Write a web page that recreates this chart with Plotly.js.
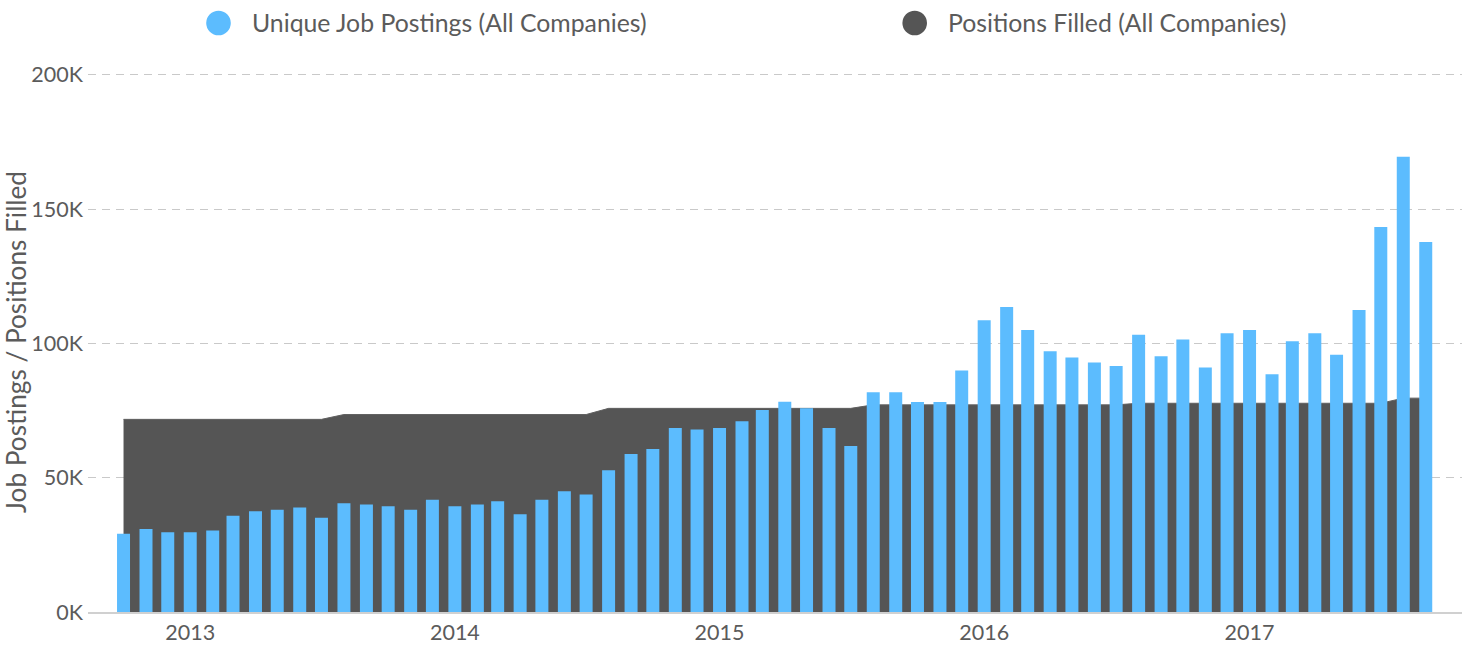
<!DOCTYPE html>
<html>
<head>
<meta charset="utf-8">
<script src="https://cdn.plot.ly/plotly-3.0.1.min.js"></script>
<style>
  html, body { margin: 0; padding: 0; background: #ffffff; }
  #chart { width: 1473px; height: 659px; }
</style>
</head>
<body>
<div id="chart"></div>
<script>
// ---- data ----
const months = [
  '2012-10','2012-11','2012-12',
  '2013-01','2013-02','2013-03','2013-04','2013-05','2013-06','2013-07','2013-08','2013-09','2013-10','2013-11','2013-12',
  '2014-01','2014-02','2014-03','2014-04','2014-05','2014-06','2014-07','2014-08','2014-09','2014-10','2014-11','2014-12',
  '2015-01','2015-02','2015-03','2015-04','2015-05','2015-06','2015-07','2015-08','2015-09','2015-10','2015-11','2015-12',
  '2016-01','2016-02','2016-03','2016-04','2016-05','2016-06','2016-07','2016-08','2016-09','2016-10','2016-11','2016-12',
  '2017-01','2017-02','2017-03','2017-04','2017-05','2017-06','2017-07','2017-08','2017-09'
];

const uniquePostings = [
  29100, 30900, 29700,
  29700, 30300, 35800, 37500, 38100, 38900, 35100, 40500, 40000, 39400, 38100, 41800,
  39400, 40000, 41200, 36400, 41800, 44900, 43700, 52800, 58800, 60700, 68500, 67900,
  68500, 71000, 75200, 78300, 75800, 68500, 61800, 81800, 81800, 78200, 78200, 89900,
  108600, 113500, 105000, 97100, 94700, 92900, 91600, 103200, 95200, 101400, 91000, 103800,
  105000, 88500, 100800, 103800, 95800, 112400, 143300, 169500, 137700
];

const positionsFilled = [
  71700, 71700, 71700,
  71700, 71700, 71700, 71700, 71700, 71700, 71700, 73500, 73500, 73500, 73500, 73500,
  73500, 73500, 73500, 73500, 73500, 73500, 73500, 75800, 75800, 75800, 75800, 75800,
  75800, 75800, 75800, 75800, 75800, 75800, 75800, 77100, 77100, 77100, 77100, 77100,
  77100, 77100, 77100, 77100, 77100, 77100, 77100, 77700, 77700, 77700, 77700, 77700,
  77700, 77700, 77700, 77700, 77700, 77700, 77700, 79600, 79600
];

const yTickVals = [0, 50000, 100000, 150000, 200000];
const yTickText = ['0K', '50K', '100K', '150K', '200K'];

const seriesNames = ['Unique Job Postings (All Companies)', 'Positions Filled (All Companies)'];

// ---- styles ----
const BLUE = '#5cbcfe';
const DARK = '#555555';
const TEXT = '#5b5b5b';
const FONT = 'Lato, "Open Sans", sans-serif';

const traces = [
  {
    type: 'scatter',
    mode: 'lines',
    name: seriesNames[1],
    x: months,
    y: positionsFilled,
    fill: 'tozeroy',
    fillcolor: DARK,
    line: { color: '#606060', width: 1 },
    xaxis: 'x',
    yaxis: 'y',
    hoverinfo: 'x+y+name',
    showlegend: false
  },
  {
    type: 'bar',
    name: seriesNames[0],
    x: months,
    y: uniquePostings,
    marker: { color: BLUE, line: { width: 0 } },
    xaxis: 'x',
    yaxis: 'y2',
    hoverinfo: 'x+y+name',
    showlegend: false
  }
];

// plot area in pixels
const L = 88, R = 11, T = 72, B = 47;
const W = 1473, H = 659;
const pw = W - L - R, ph = H - T - B;
const px = v => (v - L) / pw;
const py = v => (H - B - v) / ph;
const Y_MAX = 201000;

const layout = {
  width: W,
  height: H,
  margin: { l: L, r: R, t: T, b: B, pad: 0 },
  paper_bgcolor: '#ffffff',
  plot_bgcolor: '#ffffff',
  font: { family: FONT, color: TEXT, size: 21 },
  bargap: 0.36,
  showlegend: false,
  xaxis: {
    type: 'date',
    range: ['2012-08-13', '2017-10-21'],
    tick0: '2013-01-01',
    dtick: 'M12',
    tickformat: '%Y',
    showgrid: false,
    zeroline: false,
    showline: true,
    linecolor: '#d0d0d0',
    linewidth: 2,
    ticks: '',
    tickfont: { family: FONT, size: 21.5, color: TEXT },
    fixedrange: true
  },
  yaxis: {
    range: [0, Y_MAX],
    tickvals: yTickVals,
    ticktext: yTickText,
    showgrid: true,
    gridcolor: '#c9c9c9',
    gridwidth: 1,
    griddash: '8px,6px',
    zeroline: false,
    showline: false,
    ticks: '',
    ticklabelstandoff: 4,
    tickfont: { family: FONT, size: 21.5, color: TEXT },
    title: { text: 'Job Postings / Positions Filled', font: { family: FONT, size: 26.2, color: TEXT }, standoff: 0 },
    automargin: false,
    fixedrange: true
  },
  yaxis2: {
    overlaying: 'y',
    range: [0, Y_MAX],
    visible: false,
    showgrid: false,
    zeroline: false,
    fixedrange: true
  },
  shapes: [
    {
      type: 'circle', xref: 'paper', yref: 'paper',
      xsizemode: 'pixel', ysizemode: 'pixel',
      xanchor: px(218.5), yanchor: py(23),
      x0: -12.3, x1: 12.3, y0: -12.3, y1: 12.3,
      fillcolor: BLUE, line: { width: 0 }
    },
    {
      type: 'circle', xref: 'paper', yref: 'paper',
      xsizemode: 'pixel', ysizemode: 'pixel',
      xanchor: px(914.7), yanchor: py(23),
      x0: -12.3, x1: 12.3, y0: -12.3, y1: 12.3,
      fillcolor: DARK, line: { width: 0 }
    }
  ],
  annotations: [
    {
      xref: 'paper', yref: 'paper', x: px(250), y: py(23),
      xanchor: 'left', yanchor: 'middle', showarrow: false,
      text: seriesNames[0], font: { family: FONT, size: 24.8, color: TEXT }
    },
    {
      xref: 'paper', yref: 'paper', x: px(946), y: py(23),
      xanchor: 'left', yanchor: 'middle', showarrow: false,
      text: seriesNames[1], font: { family: FONT, size: 24.8, color: TEXT }
    }
  ]
};

Plotly.newPlot('chart', traces, layout, { displayModeBar: false, staticPlot: false, responsive: false });
</script>
</body>
</html>
